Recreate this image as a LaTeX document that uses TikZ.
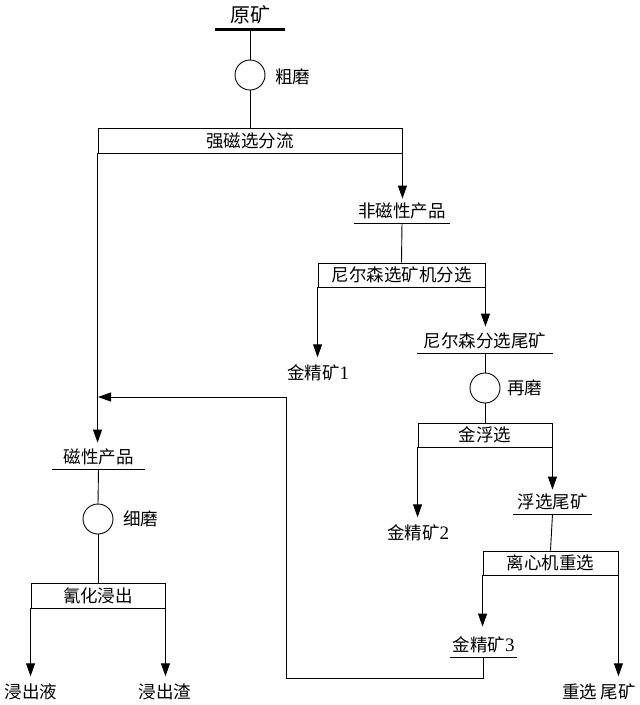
\documentclass[tikz,border=0pt]{standalone}
\usepackage{fontspec}
\setmainfont{Liberation Serif}
\newfontfamily\cjk{Noto Sans CJK SC}
\usetikzlibrary{arrows.meta}
\begin{document}
\begin{tikzpicture}[x=1pt,y=-1pt,
  every node/.style={font=\cjk\fontsize{17.5}{19}\selectfont},
  proc/.style={draw,line width=0.9pt,rectangle,inner sep=0pt,minimum height=24pt},
  prod/.style={inner sep=0pt,minimum height=24pt,anchor=south},
  endtext/.style={inner sep=0pt,minimum height=31pt},
  mill/.style={draw,line width=0.9pt,circle,minimum size=30pt,inner sep=0pt},
  lbl/.style={inner sep=0pt,anchor=west},
  ln/.style={line width=0.9pt},
  arr/.style={line width=0.9pt,-{Triangle[length=13pt,width=9pt]}}]
\useasboundingbox (0,0) rectangle (640,705);
% top
\node[prod,minimum width=70pt,minimum height=28pt,font=\cjk\fontsize{20}{22}\selectfont] (ore) at (250,29) {原矿};
\draw[line width=3pt] (ore.south west) -- (ore.south east);
\node[mill] (m1) at (250,75) {};
\node[lbl] (m1l) at (275,77) {粗磨};
\node[proc,minimum width=304pt,minimum height=25pt] (b1) at (250,140.5) {强磁选分流};
\draw[ln] (ore.south) -- (m1.north);
\draw[ln] (m1.south) -- (b1.north);
% right branch
\node[prod,minimum width=95pt] (nm) at (402,223) {非磁性产品};
\draw[ln] (nm.south west) -- (nm.south east);
\draw[arr] (b1.south east) -- (nm.north -| b1.south east);
\node[proc,minimum width=167pt] (b2) at (401.5,275) {尼尔森选矿机分选};
\draw[ln] (nm.south) -- (b2.north);
\node[endtext] (c1) at (318,373) {金精矿\rmfamily\fontsize{19}{20}\selectfont 1};
\draw[arr] (b2.south west) -- (c1.north -| b2.south west);
\node[prod,minimum width=135pt] (nt) at (485,353) {尼尔森分选尾矿};
\draw[ln] (nt.south west) -- (nt.south east);
\draw[arr] (b2.south east) -- ([yshift=2pt]nt.north -| b2.south east);
\node[mill] (m2) at (485,388) {};
\node[lbl] (m2l) at (507,388) {再磨};
\draw[ln] (nt.south) -- (m2.north);
\node[proc,minimum width=134pt] (b3) at (485,435) {金浮选};
\draw[ln] (m2.south) -- (b3.north);
\node[endtext] (c2) at (418,533) {金精矿\rmfamily\fontsize{19}{20}\selectfont 2};
\draw[arr] (b3.south west) -- (c2.north -| b3.south west);
\node[prod,minimum width=79pt] (ft) at (552.5,514) {浮选尾矿};
\draw[ln] (ft.south west) -- (ft.south east);
\draw[arr] (b3.south east) -- (ft.north -| b3.south east);
\node[proc,minimum width=135pt] (b4) at (550.5,563) {离心机重选};
\draw[ln] (ft.south) -- (b4.north);
\node[prod,minimum width=67pt] (c3) at (483.5,657) {金精矿\rmfamily\fontsize{19}{20}\selectfont 3};
\draw[ln] (c3.south west) -- (c3.south east);
\draw[arr] (b4.south west) -- ([yshift=6pt]c3.north -| b4.south west);
\node[endtext] (gt) at (599,692) {重选 尾矿};
\draw[arr] (b4.south east) -- (gt.north -| b4.south east);
% left branch
\node[prod,minimum width=93pt] (mp) at (98.5,469) {磁性产品};
\draw[ln] (mp.south west) -- (mp.south east);
\draw[arr] (b1.south west) -- ([yshift=2pt]mp.north -| b1.south west);
\coordinate (r1) at (286,678);
\coordinate (r2) at (286,397);
\coordinate (r3) at (98,397);
\draw[arr] (c3.south) |- (r1) -- (r2) -- (r3);
\node[mill] (m3) at (98,519) {};
\node[lbl] (m3l) at (123,519) {细磨};
\draw[ln] (mp.south) -- (m3.north);
\node[proc,minimum width=134pt,minimum height=25pt] (b5) at (98,595.5) {氰化浸出};
\draw[ln] (m3.south) -- (b5.north);
\node[endtext] (lq) at (31,692) {浸出液};
\node[endtext] (rs) at (165,692) {浸出渣};
\draw[arr] (b5.south west) -- (lq.north -| b5.south west);
\draw[arr] (b5.south east) -- (rs.north -| b5.south east);
\end{tikzpicture}
\end{document}
